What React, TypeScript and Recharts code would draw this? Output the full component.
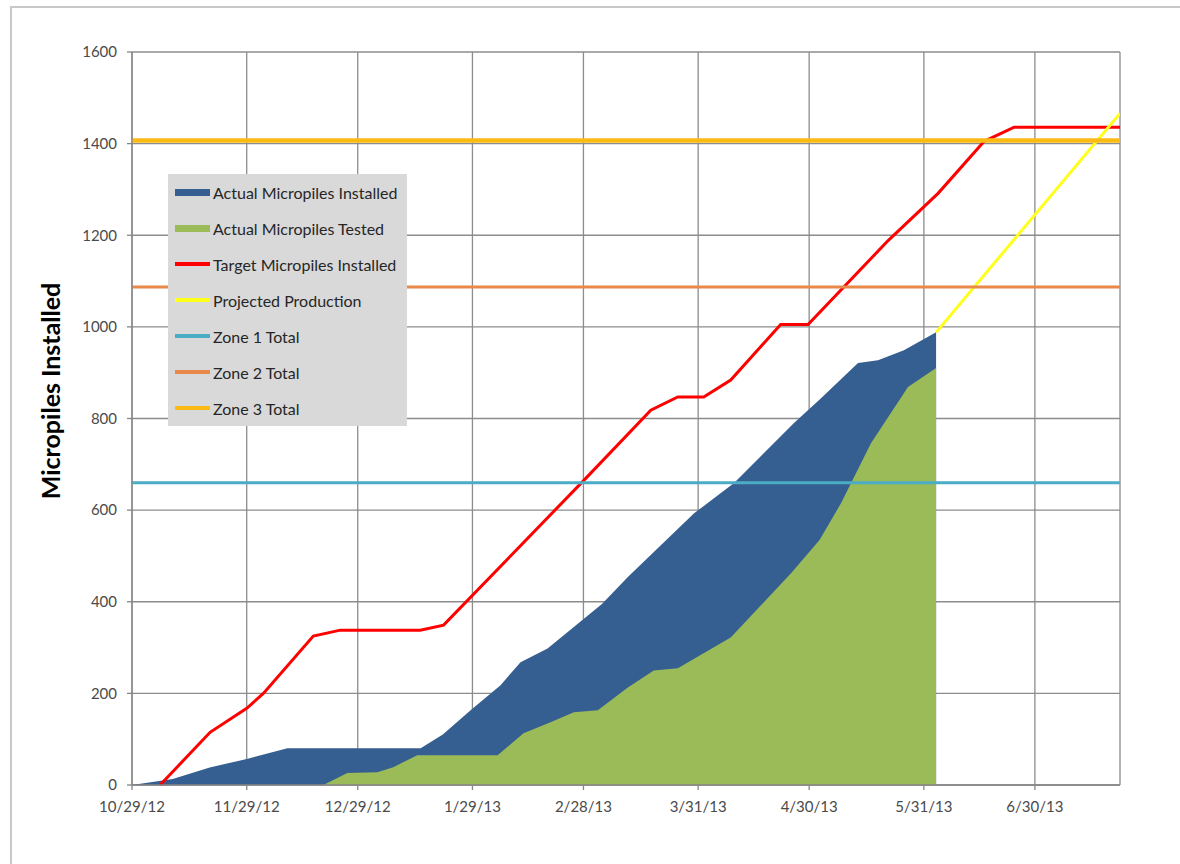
import React from "react";
import {
  ComposedChart,
  Area,
  Line,
  XAxis,
  YAxis,
  CartesianGrid,
  Legend,
} from "recharts";

// x values are days counted from 10/29/12
const tickDays = [0, 31, 61, 92, 122, 153, 183, 214, 244];
const tickLabels = [
  "10/29/12",
  "11/29/12",
  "12/29/12",
  "1/29/13",
  "2/28/13",
  "3/31/13",
  "4/30/13",
  "5/31/13",
  "6/30/13",
];
const yTicks = [0, 200, 400, 600, 800, 1000, 1200, 1400, 1600];
const yMinorTicks = Array.from({ length: 41 }, (_, i) => i * 40);

const installedDays = [0, 11, 21, 31, 42, 78, 84, 91.5, 99.6, 105, 112.3, 127, 134, 151.9, 162.7, 178.9, 186.2, 196.2, 201.6, 208.6, 217.3];
const installedValues = [0, 13, 38, 57, 80, 80, 110, 163, 218, 268, 298, 395, 454, 593, 659, 790, 844, 921, 927, 949, 988];

const testedDays = [0, 51.7, 58.2, 66.3, 70.6, 77.1, 98.8, 105.8, 113.1, 119.4, 125.9, 134, 141, 147.5, 161.8, 178.1, 185.8, 191.6, 199.7, 209.7, 217.3];
const testedValues = [0, 0, 26, 28, 39, 65, 65, 113, 137, 159, 163, 213, 250, 255, 322, 462, 535, 615, 746, 869, 910];

const targetDays = [7.6, 21.1, 31.1, 35.5, 49, 56.3, 77.9, 84.2, 122.1, 140.2, 147.5, 154.5, 161.8, 175.3, 182.7, 204.4, 217.9, 230.3, 238.4, 267];
const targetValues = [0, 115, 168, 200, 325, 338, 338, 349, 665, 818, 847, 847, 884, 1005, 1005, 1189, 1292, 1405, 1436, 1436];

const projectedDays = [217.3, 267];
const projectedValues = [988, 1466];

const zoneDays = [0, 267];
const zone1Total = 660;
const zone2Total = 1087;
const zone3Total = 1407;

const seriesNames = [
  "Actual Micropiles Installed",
  "Actual Micropiles Tested",
  "Target Micropiles Installed",
  "Projected Production",
  "Zone 1 Total",
  "Zone 2 Total",
  "Zone 3 Total",
];
const seriesColors = ["#365F91", "#9BBB59", "#FF0000", "#FFFF1A", "#4BACC6", "#E8894A", "#FDBA12"];

const toPoints = (days: number[], values: number[]) =>
  days.map((day, i) => ({ day, v: values[i] }));

const installed = toPoints(installedDays, installedValues);
const tested = toPoints(testedDays, testedValues);
const target = toPoints(targetDays, targetValues);
const projected = toPoints(projectedDays, projectedValues);
const zone1 = toPoints(zoneDays, zoneDays.map(() => zone1Total));
const zone2 = toPoints(zoneDays, zoneDays.map(() => zone2Total));
const zone3 = toPoints(zoneDays, zoneDays.map(() => zone3Total));

const FONT = "Lato, 'Open Sans', sans-serif";

function LegendBox() {
  return (
    <div style={{ background: "#D9D9D9", width: 239, height: 252, fontFamily: FONT }}>
      {seriesNames.map((name, i) => (
        <div key={name} style={{ display: "flex", alignItems: "center", height: 36 }}>
          <span
            style={{
              display: "inline-block",
              flex: "none",
              width: 35,
              height: i < 2 ? 7 : 4,
              background: seriesColors[i],
              marginLeft: 7,
              marginRight: 3,
            }}
          />
          <span style={{ fontSize: 16, color: "#262626", whiteSpace: "nowrap" }}>{name}</span>
        </div>
      ))}
    </div>
  );
}

export default function App() {
  return (
    <div
      style={{
        position: "absolute",
        left: 0,
        top: 0,
        width: 1180,
        height: 864,
        overflow: "hidden",
        background: "#fff",
        fontFamily: FONT,
      }}
    >
      <div
        style={{
          position: "absolute",
          left: 10,
          top: 6,
          width: 1200,
          height: 900,
          border: "2px solid #C8C8C8",
        }}
      />
      <div
        style={{
          position: "absolute",
          left: 50,
          top: 391,
          transform: "translate(-50%, -50%) rotate(-90deg)",
          whiteSpace: "nowrap",
          fontWeight: 700,
          fontSize: 25,
          color: "#000",
        }}
      >
        Micropiles Installed
      </div>
      <ComposedChart
        width={1180}
        height={864}
        margin={{ top: 52, right: 60, bottom: 49, left: 72 }}
        style={{ position: "absolute", left: 0, top: 0 }}
      >
        <CartesianGrid stroke="#8C8C8C" strokeWidth={1.3} />
        <XAxis
          dataKey="day"
          type="number"
          domain={[0, 267]}
          ticks={tickDays}
          interval={0}
          height={30}
          tickFormatter={(d: number) => tickLabels[tickDays.indexOf(d)]}
          tick={{ fill: "#4A4A4A", fontSize: 15 }}
          tickSize={5}
          tickMargin={11}
          stroke="#868686"
          strokeWidth={1.3}
          allowDataOverflow
        />
        <YAxis
          domain={[0, 1600]}
          ticks={yTicks}
          interval={0}
          width={60}
          tick={{ fill: "#4A4A4A", fontSize: 15 }}
          tickSize={5}
          tickMargin={10}
          stroke="#868686"
          strokeWidth={1.3}
        />
        <YAxis
          yAxisId="minor"
          domain={[0, 1600]}
          ticks={yMinorTicks}
          interval={0}
          width={0}
          mirror
          tick={false}
          axisLine={false}
          tickLine={{ stroke: "#8C8C8C", strokeWidth: 1.2 }}
          tickSize={5}
          stroke="#8C8C8C"
        />
        <Legend
          layout="horizontal"
          verticalAlign="middle"
          align="center"
          wrapperStyle={{ position: "absolute", left: 168, top: 174, width: 239, height: 252 }}
          content={() => <LegendBox />}
        />
        <Area
          data={installed}
          dataKey="v"
          name={seriesNames[0]}
          type="linear"
          stroke="none"
          fill={seriesColors[0]}
          fillOpacity={1}
          isAnimationActive={false}
        />
        <Area
          data={tested}
          dataKey="v"
          name={seriesNames[1]}
          type="linear"
          stroke="none"
          fill={seriesColors[1]}
          fillOpacity={1}
          isAnimationActive={false}
        />
        <Line
          data={target}
          dataKey="v"
          name={seriesNames[2]}
          type="linear"
          stroke={seriesColors[2]}
          strokeWidth={3}
          dot={false}
          activeDot={false}
          isAnimationActive={false}
        />
        <Line
          data={projected}
          dataKey="v"
          name={seriesNames[3]}
          type="linear"
          stroke={seriesColors[3]}
          strokeWidth={3}
          dot={false}
          activeDot={false}
          isAnimationActive={false}
        />
        <Line
          data={zone1}
          dataKey="v"
          name={seriesNames[4]}
          stroke={seriesColors[4]}
          strokeWidth={3}
          dot={false}
          activeDot={false}
          isAnimationActive={false}
        />
        <Line
          data={zone2}
          dataKey="v"
          name={seriesNames[5]}
          stroke={seriesColors[5]}
          strokeWidth={3}
          dot={false}
          activeDot={false}
          isAnimationActive={false}
        />
        <Line
          data={zone3}
          dataKey="v"
          name={seriesNames[6]}
          stroke={seriesColors[6]}
          strokeWidth={4.5}
          dot={false}
          activeDot={false}
          isAnimationActive={false}
        />
      </ComposedChart>
    </div>
  );
}
